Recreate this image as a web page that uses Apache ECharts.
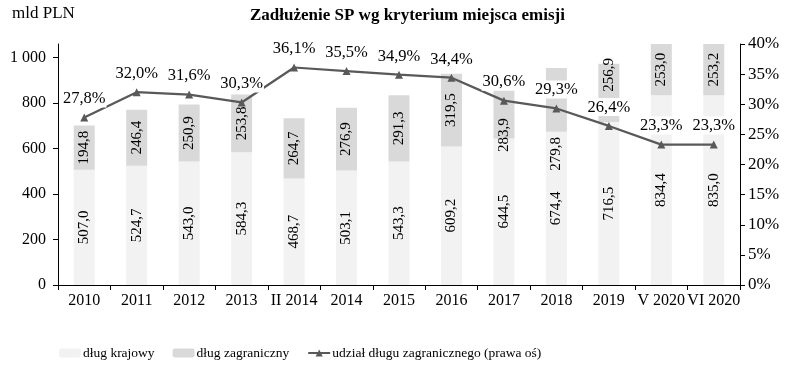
<!DOCTYPE html>
<html><head><meta charset="utf-8">
<script src="https://cdn.jsdelivr.net/npm/echarts@6/dist/echarts.min.js"></script>
<style>html,body{margin:0;padding:0;background:#fff}#c{width:803px;height:379px}</style>
</head><body><div id="c"></div>
<script>
const categories = ['2010','2011','2012','2013','II 2014','2014','2015','2016','2017','2018','2019','V 2020','VI 2020'];
const domestic = [507.0,524.7,543.0,584.3,468.7,503.1,543.3,609.2,644.5,674.4,716.5,834.4,835.0];
const foreign = [194.8,246.4,250.9,253.8,264.7,276.9,291.3,319.5,283.9,279.8,256.9,253.0,253.2];
const share = [27.8,32.0,31.6,30.3,36.1,35.5,34.9,34.4,30.6,29.3,26.4,23.3,23.3];

const F = 'Liberation Serif, Times New Roman, serif';
const fmt1 = v => v.toFixed(1).replace('.', ',');
// label nudges (style only, px downward) so foreign-debt labels sit clear of the line labels, as in the source
const foreignLabelShift = {8: 29, 9: 54, 10: -18};
const chart = echarts.init(document.getElementById('c'), null, {renderer:'canvas'});
const barLabel = {
  show: true, rotate: 90, position: 'inside', color: '#000',
  fontFamily: F, fontSize: 15,
  formatter: p => fmt1(p.value)
};
const foreignData = foreign.map((v, i) => foreignLabelShift[i] === undefined ? v :
  {value: v, label: {offset: [-foreignLabelShift[i], 0]}});
chart.setOption({
  animation: false,
  textStyle: {fontFamily: F},
  graphic: [
    {type:'text', left: 12, top: 5, style:{text:'mld PLN', font:'17px ' + F, fill:'#000'}}
  ],
  title: {text: 'Zadłużenie SP wg kryterium miejsca emisji', left: 245, top: 2,
    textStyle: {fontFamily: F, fontSize: 17, fontWeight: 'bold', color: '#000'}},
  legend: {
    top: 341, left: 54, itemGap: 18, itemWidth: 22, itemHeight: 9,
    textStyle: {fontFamily: F, fontSize: 13.5, color: '#000', padding: [0,0,0,-3]},
    data: ['dług krajowy','dług zagraniczny','udział długu zagranicznego (prawa oś)']
  },
  grid: {left: 58, right: 63, top: 44, bottom: 94},
  xAxis: {
    type: 'category', data: categories,
    axisLine: {lineStyle: {color: '#000'}},
    axisTick: {show: true, length: 5, lineStyle: {color: '#000'}},
    axisLabel: {color: '#000', fontFamily: F, fontSize: 16, margin: 8, interval: 0}
  },
  yAxis: [
    {type: 'value', min: 0, max: 1060, interval: 200,
      axisLine: {show: true, lineStyle: {color: '#000'}},
      axisTick: {show: true, length: 5, lineStyle: {color: '#000'}},
      splitLine: {show: false},
      axisLabel: {color: '#000', fontFamily: F, fontSize: 16, margin: 12, showMaxLabel: false,
        formatter: v => v >= 1000 ? Math.floor(v/1000) + ' ' + String(v%1000).padStart(3,'0') : String(v)}
    },
    {type: 'value', min: 0, max: 40, interval: 5, position: 'right',
      axisLine: {show: true, lineStyle: {color: '#000'}},
      axisTick: {show: true, length: 5, lineStyle: {color: '#000'}},
      splitLine: {show: false},
      axisLabel: {color: '#000', fontFamily: F, fontSize: 17, margin: 8, formatter: '{value}%'}
    }
  ],
  series: [
    {name: 'dług krajowy', type: 'bar', stack: 's', data: domestic, barWidth: 21,
      itemStyle: {color: '#f2f2f2'}, label: barLabel, clip: true},
    {name: 'dług zagraniczny', type: 'bar', stack: 's', data: foreignData, barWidth: 21,
      itemStyle: {color: '#d9d9d9'}, label: barLabel, clip: true},
    {name: 'udział długu zagranicznego (prawa oś)', type: 'line', yAxisIndex: 1, data: share,
      symbol: 'triangle', symbolSize: 8, z: 5,
      lineStyle: {color: '#595959', width: 2.25}, itemStyle: {color: '#595959'},
      label: {show: true, position: 'top', distance: 6, color: '#000', fontFamily: F, fontSize: 16.5,
        backgroundColor: '#fff', padding: [1,1,0,1],
        formatter: p => fmt1(p.value) + '%'}
    }
  ]
});
</script></body></html>
